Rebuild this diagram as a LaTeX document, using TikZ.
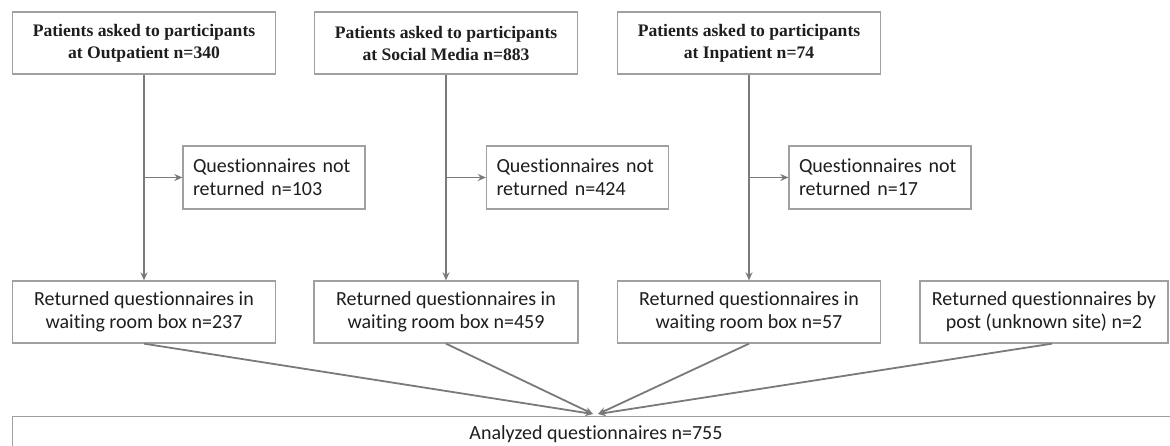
\documentclass[tikz,border=0pt]{standalone}
\usepackage{fontspec}
\setmainfont[Ligatures=CommonOff]{Carlito}
\newfontfamily\timesbf{Liberation Serif}
\usetikzlibrary{arrows.meta,calc}
\definecolor{boxgray}{HTML}{A0A0A0}
\definecolor{linegray}{HTML}{7A7A7A}
\definecolor{txt}{HTML}{1E1E1E}
\begin{document}
\begin{tikzpicture}[x=1pt,y=-1pt,
  topbox/.style={draw=boxgray,line width=1.5pt,minimum width=263pt,minimum height=62pt,
    align=center,text=txt,inner sep=0pt,font=\timesbf\bfseries\fontsize{17.6}{22}\selectfont},
  nrbox/.style={draw=boxgray,line width=1.3pt,minimum width=182pt,minimum height=63pt,
    align=left,text=txt,text width=162pt,inner sep=0pt,font=\fontsize{20}{23}\selectfont},
  retbox/.style={draw=boxgray,line width=1.3pt,minimum height=62pt,
    align=center,text=txt,inner sep=0pt,font=\fontsize{20}{23}\selectfont},
  conn/.style={draw=linegray,line width=1.8pt,-{Stealth[length=8pt,width=7pt]}}
]
\useasboundingbox (0,0) rectangle (1170,445);
\fill[white] (0,0) rectangle (1170,445);
% top boxes
\node[topbox] (t1) at (144,43) {Patients asked to participants\\at Outpatient n=340};
\node[topbox] (t2) at (446,43) {Patients asked to participants\\at Social Media n=883};
\node[topbox] (t3) at (749,43) {Patients asked to participants\\at Inpatient n=74};
% not returned boxes
\node[nrbox] (n1) at (274,177.5) {Questionnaires not\\returned n=103};
\node[nrbox] (n2) at (577.5,177.5) {Questionnaires not\\returned n=424};
\node[nrbox] (n3) at (880,177.5) {Questionnaires not\\returned n=17};
% returned boxes
\node[retbox,minimum width=263pt] (r1) at (144,312) {Returned questionnaires in\\waiting room box n=237};
\node[retbox,minimum width=264pt] (r2) at (446,312) {Returned questionnaires in\\waiting room box n=459};
\node[retbox,minimum width=263pt] (r3) at (749,312) {Returned questionnaires in\\waiting room box n=57};
\node[retbox,minimum width=248pt] (r4) at (1044,312) {Returned questionnaires by\\post (unknown site) n=2};
% bottom box
\node[retbox,minimum width=1180pt,minimum height=60pt,anchor=north west] (a) at (12,416) {};
\node[text=txt,font=\fontsize{20}{23}\selectfont,anchor=center] (at) at (596,434) {Analyzed questionnaires n=755};
% vertical connectors
\draw[conn] (t1.south) -- (r1.north);
\draw[conn] (t2.south) -- (r2.north);
\draw[conn] (t3.south) -- (r3.north);
% branches
\draw[conn] (t1.south |- n1.west) -- (n1.west);
\draw[conn] (t2.south |- n2.west) -- (n2.west);
\draw[conn] (t3.south |- n3.west) -- (n3.west);
% converging
\coordinate (m1) at (593,414);
\coordinate (m2) at (598,414);
\coordinate (s4) at ($(r4.south)+(8,0)$);
\draw[conn] (r1.south) -- (m1);
\draw[conn] (r2.south) -- (m1);
\draw[conn] (r3.south) -- (m2);
\draw[conn] (s4) -- (m2);
\end{tikzpicture}
\end{document}
